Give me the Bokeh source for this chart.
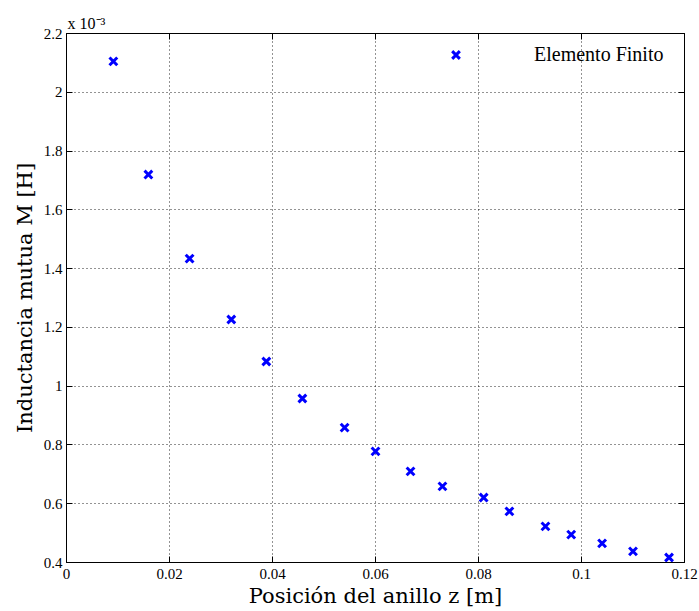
from bokeh.plotting import figure
from bokeh.models import (Range1d, FixedTicker, CustomJSTickFormatter, LinearAxis,
                          Legend, LegendItem, Title)
from bokeh.embed import file_html
from bokeh.resources import INLINE

# Data (M in units of 1e-3 H)
z_pos = [0.0091, 0.0159, 0.0239, 0.0320, 0.0388, 0.0458, 0.0540, 0.0600, 0.0668,
         0.0730, 0.0810, 0.0860, 0.0930, 0.0980, 0.1040, 0.1100, 0.1170]
M_vals = [2.105, 1.720, 1.434, 1.227, 1.084, 0.958, 0.859, 0.778, 0.710,
          0.659, 0.621, 0.574, 0.523, 0.495, 0.465, 0.438, 0.417]
x_ticks = [0, 0.02, 0.04, 0.06, 0.08, 0.1, 0.12]
y_ticks = [0.4, 0.6, 0.8, 1.0, 1.2, 1.4, 1.6, 1.8, 2.0, 2.2]
series_name = "Elemento Finito"
x_title = "Posición del anillo z [m]"
y_title = "Inductancia mutua M [H]"
scale_text = "x 10\u207b\u00b3"

fmt = CustomJSTickFormatter(code="return String(Math.round(tick*1000)/1000);")
blank = CustomJSTickFormatter(code="return '';")

p = figure(width=699, height=611, output_backend="svg", toolbar_location=None,
           x_range=Range1d(0, 0.12), y_range=Range1d(0.4, 2.2),
           min_border_left=66, min_border_right=15, min_border_top=33, min_border_bottom=49)
p.background_fill_color = "white"
p.border_fill_color = "white"
p.outline_line_color = "black"
p.outline_line_width = 1

for ax, ticks in ((p.xaxis[0], x_ticks), (p.yaxis[0], y_ticks)):
    ax.ticker = FixedTicker(ticks=ticks)
    ax.formatter = fmt
    ax.major_tick_in = 6
    ax.major_tick_out = 0
    ax.minor_tick_in = 0
    ax.minor_tick_out = 0
    ax.axis_line_color = "black"
    ax.major_tick_line_color = "black"
    ax.major_label_text_font = "Liberation Serif"
    ax.major_label_text_font_size = "15px"
    ax.major_label_text_color = "black"
    ax.axis_label_text_font = "DejaVu Serif"
    ax.axis_label_text_font_size = "21px"
    ax.axis_label_text_font_style = "normal"
    ax.axis_label_text_color = "black"

p.xaxis[0].axis_label = x_title
p.yaxis[0].axis_label = y_title
p.xaxis[0].major_label_standoff = 6
p.yaxis[0].major_label_standoff = 4
p.xaxis[0].axis_label_standoff = 2
p.yaxis[0].axis_label_standoff = 4

for loc, ticks in (("above", x_ticks), ("right", y_ticks)):
    ax = LinearAxis(ticker=FixedTicker(ticks=ticks), formatter=blank,
                    major_tick_in=6, major_tick_out=0,
                    minor_tick_in=0, minor_tick_out=0,
                    major_label_standoff=0, axis_line_color="black",
                    major_tick_line_color="black")
    p.add_layout(ax, loc)

for g, ticks in ((p.xgrid[0], x_ticks), (p.ygrid[0], y_ticks)):
    g.ticker = FixedTicker(ticks=ticks)
    g.grid_line_color = "black"
    g.grid_line_alpha = 0.85
    g.grid_line_width = 1
    g.grid_line_dash = "1 3"

r = p.scatter(z_pos, M_vals, marker="x", size=11, line_width=3, line_color="#0000ff")

legend = Legend(items=[LegendItem(label=series_name, renderers=[r])],
                location="top_right", border_line_alpha=0, background_fill_alpha=0,
                label_text_font="Liberation Serif", label_text_font_size="20px",
                label_text_color="black", glyph_width=27, glyph_height=27,
                label_standoff=65, label_width=142, padding=8, margin=0)
p.add_layout(legend)

p.add_layout(Title(text=scale_text, align="left", offset=1, standoff=4,
                   text_font="Liberation Serif", text_font_size="16px",
                   text_font_style="normal", text_color="black"), "above")

open("out.html", "w").write(file_html(p, INLINE))
